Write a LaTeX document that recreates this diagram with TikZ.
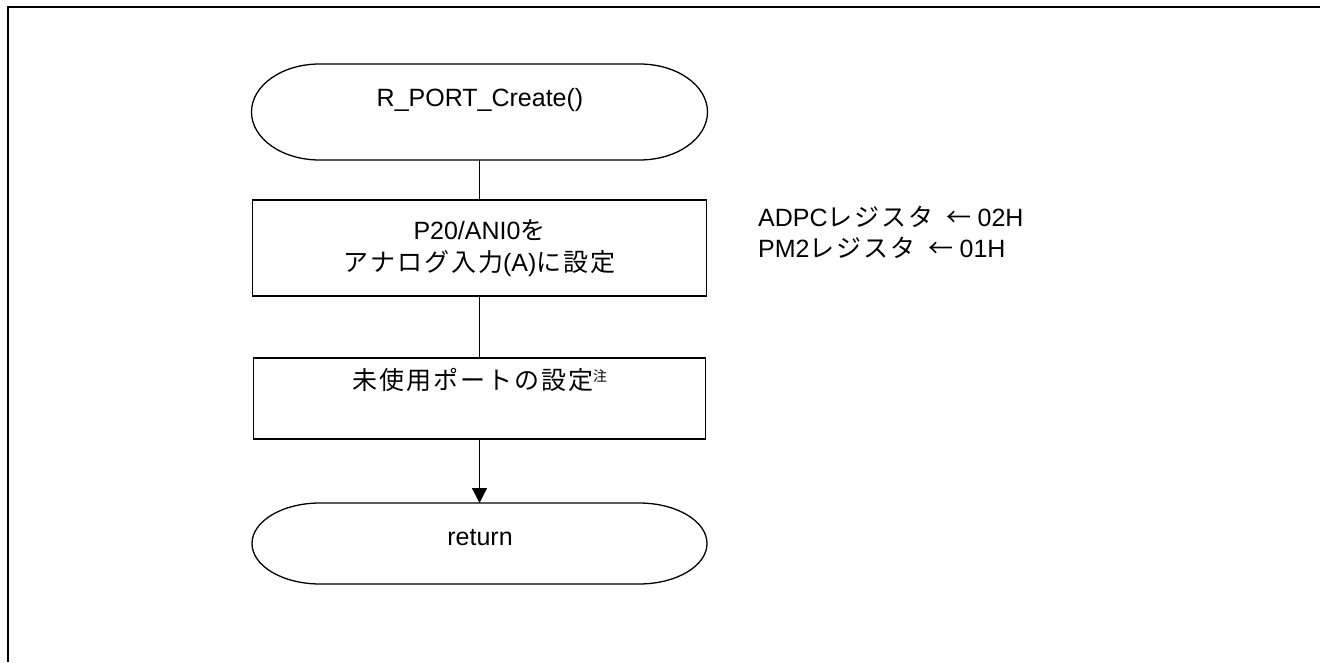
\documentclass[tikz,border=0pt]{standalone}
\usepackage{fontspec}
\setmainfont{Liberation Sans}
\newfontfamily\jp[LetterSpace=8]{Noto Sans CJK JP}
\newfontfamily\jparrow{Noto Sans CJK JP}
\usetikzlibrary{arrows.meta}
\tikzset{
  x=1pt, y=1pt,
  shp/.style={draw=none, inner sep=0pt, outer sep=0pt},
  procbox/.style={shp, draw=black, line width=1.3pt, font=\fontsize{25}{32}\selectfont, align=center},
  termline/.style={draw=black, line width=1.3pt},
  txt/.style={inner sep=0pt, font=\fontsize{25}{32}\selectfont},
  flow/.style={draw=black, line width=1.3pt},
  flowarrow/.style={flow, -{Triangle[length=15pt,width=15pt]}},
}
\begin{document}
\begin{tikzpicture}
\useasboundingbox (0,0) rectangle (1320,662);
% frame
\draw[line width=2pt] (7.5,0) -- (7.5,654.5) -- (1320,654.5);

% start terminator
\node[shp, minimum width=456pt, minimum height=96pt] (start) at (479.5,550) {};
\draw[termline] ([xshift=68pt]start.north west) -- ([xshift=-68pt]start.north east)
  arc[start angle=90, end angle=-90, x radius=68, y radius=48]
  -- ([xshift=68pt]start.south west)
  arc[start angle=270, end angle=90, x radius=68, y radius=48] -- cycle;
\node[txt, anchor=base] (starttxt) at (480,555) {R\_PORT\_Create()};

% box 1
\node[procbox, minimum width=454pt, minimum height=96pt] (box1) at (479.5,414)
  {P20/ANI0{\jp を}\\{\jp アナログ入力}(A){\jp に設定}};

% box 2
\node[shp, draw=black, line width=1.3pt, minimum width=452pt, minimum height=81pt] (box2) at (479.5,263.5) {};
\node[txt, anchor=base] (box2txt) at (479.5,272)
  {{\jp 未使用ポートの設定}\raisebox{8pt}{\fontsize{14}{14}\selectfont\jparrow 注}};

% return terminator
\node[shp, minimum width=455pt, minimum height=81pt] (ret) at (479.5,118.5) {};
\draw[termline] ([xshift=68pt]ret.north west) -- ([xshift=-68pt]ret.north east)
  arc[start angle=90, end angle=-90, x radius=68, y radius=40.5]
  -- ([xshift=68pt]ret.south west)
  arc[start angle=270, end angle=90, x radius=68, y radius=40.5] -- cycle;
\node[txt, anchor=base] (rettxt) at (480,117) {return};

% side notes
\node[txt, anchor=base west] (note1) at (758,435) {ADPC{\jp レジスタ}\hspace{13pt}{\jparrow ←}\hspace{6pt}02H};
\node[txt, anchor=base west] (note2) at (758,404) {PM2{\jp レジスタ}\hspace{13pt}{\jparrow ←}\hspace{6pt}01H};

% connectors
\draw[flow] (start.south) -- (box1.north);
\draw[flow] (box1.south) -- (box2.north);
\draw[flowarrow] (box2.south) -- (ret.north);
\end{tikzpicture}
\end{document}
